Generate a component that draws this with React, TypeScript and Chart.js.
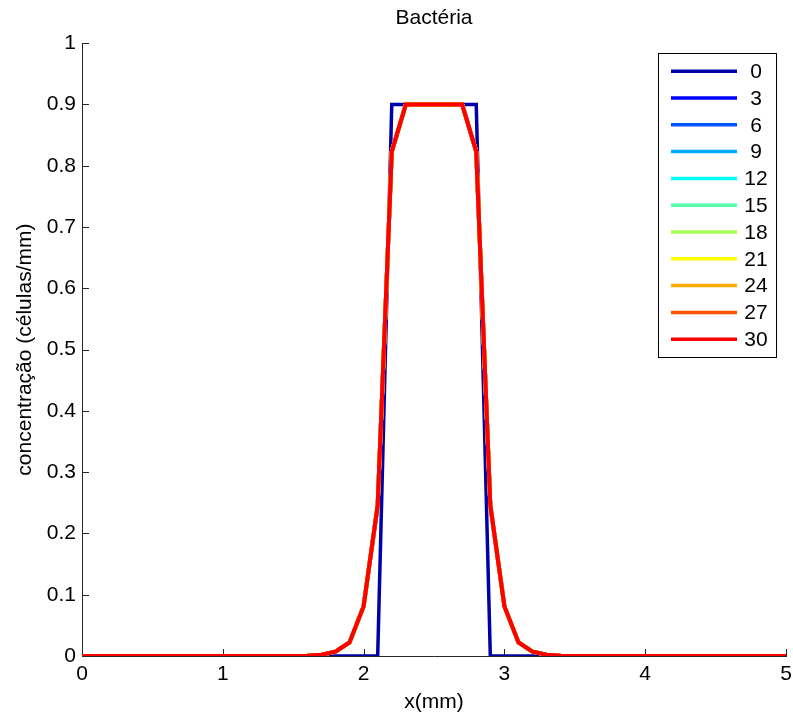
import React, { useEffect, useRef } from 'react';
import { Chart, registerables } from 'chart.js';

Chart.register(...registerables);

// x positions (mm)
const xPositions = [
  0, 0.1, 0.2, 0.3, 0.4, 0.5, 0.6, 0.7, 0.8, 0.9,
  1, 1.1, 1.2, 1.3, 1.4, 1.5, 1.6, 1.7, 1.8, 1.9,
  2, 2.1, 2.2, 2.3, 2.4, 2.5, 2.6, 2.7, 2.8, 2.9,
  3, 3.1, 3.2, 3.3, 3.4, 3.5, 3.6, 3.7, 3.8, 3.9,
  4, 4.1, 4.2, 4.3, 4.4, 4.5, 4.6, 4.7, 4.8, 4.9,
  5,
];

// time labels of the series
const timeLabels = ['0', '3', '6', '9', '12', '15', '18', '21', '24', '27', '30'];

// jet colormap (11 colours)
const seriesColors = [
  '#0000aa', '#0000ff', '#0055ff', '#00aaff', '#00ffff', '#55ffaa',
  '#aaff55', '#ffff00', '#ffaa00', '#ff5500', '#ff0000',
];

// concentration at t = 0
const valuesT0 = [
  0, 0, 0, 0, 0, 0, 0, 0, 0, 0,
  0, 0, 0, 0, 0, 0, 0, 0, 0, 0,
  0, 0, 0.9, 0.9, 0.9, 0.9, 0.9, 0.9, 0.9, 0,
  0, 0, 0, 0, 0, 0, 0, 0, 0, 0,
  0, 0, 0, 0, 0, 0, 0, 0, 0, 0,
  0,
];

// concentration for t = 3 ... 30 (curves overlap)
const valuesLater = [
  0, 0, 0, 0, 0, 0, 0, 0, 0, 0,
  0, 0, 0, 0, 0, 0, 0.0003, 0.002, 0.007, 0.022,
  0.081, 0.246, 0.823, 0.9, 0.9, 0.9, 0.9, 0.9, 0.823, 0.246,
  0.081, 0.022, 0.007, 0.002, 0.0003, 0, 0, 0, 0, 0,
  0, 0, 0, 0, 0, 0, 0, 0, 0, 0,
  0,
];

const seriesValues = [
  valuesT0, valuesLater, valuesLater, valuesLater, valuesLater, valuesLater,
  valuesLater, valuesLater, valuesLater, valuesLater, valuesLater,
];

const yTickStep = 0.1;
const xTickStep = 1;

const FONT = "'Liberation Sans', Arial, Helvetica, sans-serif";
const AXIS_COLOR = '#262626';

const inwardTicks = {
  id: 'inwardTicks',
  beforeDatasetsDraw(chart: any) {
    const { ctx, chartArea, scales } = chart;
    const len = 7;
    ctx.save();
    ctx.strokeStyle = AXIS_COLOR;
    ctx.lineWidth = 1;
    ctx.beginPath();
    scales.y.ticks.forEach((t: any) => {
      const py = Math.round(scales.y.getPixelForValue(t.value)) + 0.5;
      ctx.moveTo(chartArea.left, py);
      ctx.lineTo(chartArea.left + len, py);
    });
    scales.x.ticks.forEach((t: any) => {
      const px = Math.round(scales.x.getPixelForValue(t.value)) + 0.5;
      ctx.moveTo(px, chartArea.bottom);
      ctx.lineTo(px, chartArea.bottom - len);
    });
    ctx.stroke();
    ctx.restore();
  },
};

const boxLegend = {
  id: 'boxLegend',
  afterDatasetsDraw(chart: any) {
    const { ctx, chartArea } = chart;
    const w = 118;
    const h = 304;
    const right = chartArea.right - 10;
    const top = chartArea.top + 10;
    const left = right - w;
    const rowH = 26.8;
    ctx.save();
    ctx.fillStyle = '#ffffff';
    ctx.fillRect(left, top, w, h);
    ctx.strokeStyle = '#000000';
    ctx.lineWidth = 1;
    ctx.strokeRect(Math.round(left) + 0.5, Math.round(top) + 0.5, w, h);
    ctx.font = `21px ${FONT}`;
    ctx.textAlign = 'center';
    ctx.textBaseline = 'middle';
    timeLabels.forEach((lab, i) => {
      const y = top + 18 + i * rowH;
      ctx.strokeStyle = seriesColors[i];
      ctx.lineWidth = 3.5;
      ctx.beginPath();
      ctx.moveTo(left + 13, y);
      ctx.lineTo(left + 79, y);
      ctx.stroke();
      ctx.fillStyle = '#000000';
      ctx.fillText(lab, left + 98, y + 1);
    });
    ctx.restore();
  },
};

export default function App() {
  const ref = useRef<HTMLCanvasElement | null>(null);

  useEffect(() => {
    document.body.style.margin = '0';
    const canvas = ref.current;
    if (!canvas) return;
    const datasets = seriesValues.map((vals, i) => ({
      label: timeLabels[i],
      data: xPositions.map((x, j) => ({ x, y: vals[j] })),
      borderColor: seriesColors[i],
      backgroundColor: seriesColors[i],
      borderWidth: i === 0 ? 3.5 : 4,
      pointRadius: 0,
      tension: 0,
      fill: false,
      order: seriesValues.length - 1 - i,
    }));
    const chart = new Chart(canvas, {
      type: 'line',
      data: { datasets },
      options: {
        responsive: false,
        animation: false,
        layout: { padding: { top: 0, right: 0, bottom: 0, left: 0 } },
        plugins: {
          legend: { display: false },
          tooltip: { enabled: false },
          title: {
            display: true,
            fullSize: false,
            text: 'Bactéria',
            color: '#000',
            font: { family: FONT, size: 21, weight: 'normal' },
            padding: { top: 6, bottom: 12 },
          },
        },
        scales: {
          x: {
            type: 'linear',
            min: 0,
            max: 5,
            ticks: {
              stepSize: xTickStep,
              color: '#000',
              font: { family: FONT, size: 21 },
              padding: 6,
              maxRotation: 0,
              callback: (v: any) => String(Number(Number(v).toFixed(1))),
            },
            grid: { display: true, drawOnChartArea: false, drawTicks: false },
            border: { display: true, color: AXIS_COLOR, width: 1 },
            title: {
              display: true,
              text: 'x(mm)',
              color: '#000',
              font: { family: FONT, size: 21 },
              padding: { top: 0, bottom: 4 },
            },
            afterFit(scale: any) {
              scale.height = 63;
              scale.paddingRight = 7;
              scale.paddingLeft = 0;
            },
          },
          y: {
            type: 'linear',
            min: 0,
            max: 1,
            ticks: {
              stepSize: yTickStep,
              color: '#000',
              font: { family: FONT, size: 21 },
              padding: 6,
              callback: (v: any) => String(Number(Number(v).toFixed(1))),
            },
            grid: { display: true, drawOnChartArea: false, drawTicks: false },
            border: { display: true, color: AXIS_COLOR, width: 1 },
            title: {
              display: true,
              text: 'concentração (células/mm)',
              color: '#000',
              font: { family: FONT, size: 21 },
              padding: { top: 13, bottom: 0 },
            },
            afterFit(scale: any) {
              scale.width = 82;
            },
          },
        },
      },
      plugins: [inwardTicks, boxLegend],
    });
    return () => chart.destroy();
  }, []);

  return (
    <div style={{ width: 793, height: 719 }}>
      <canvas ref={ref} width={793} height={719} style={{ display: 'block' }} />
    </div>
  );
}
